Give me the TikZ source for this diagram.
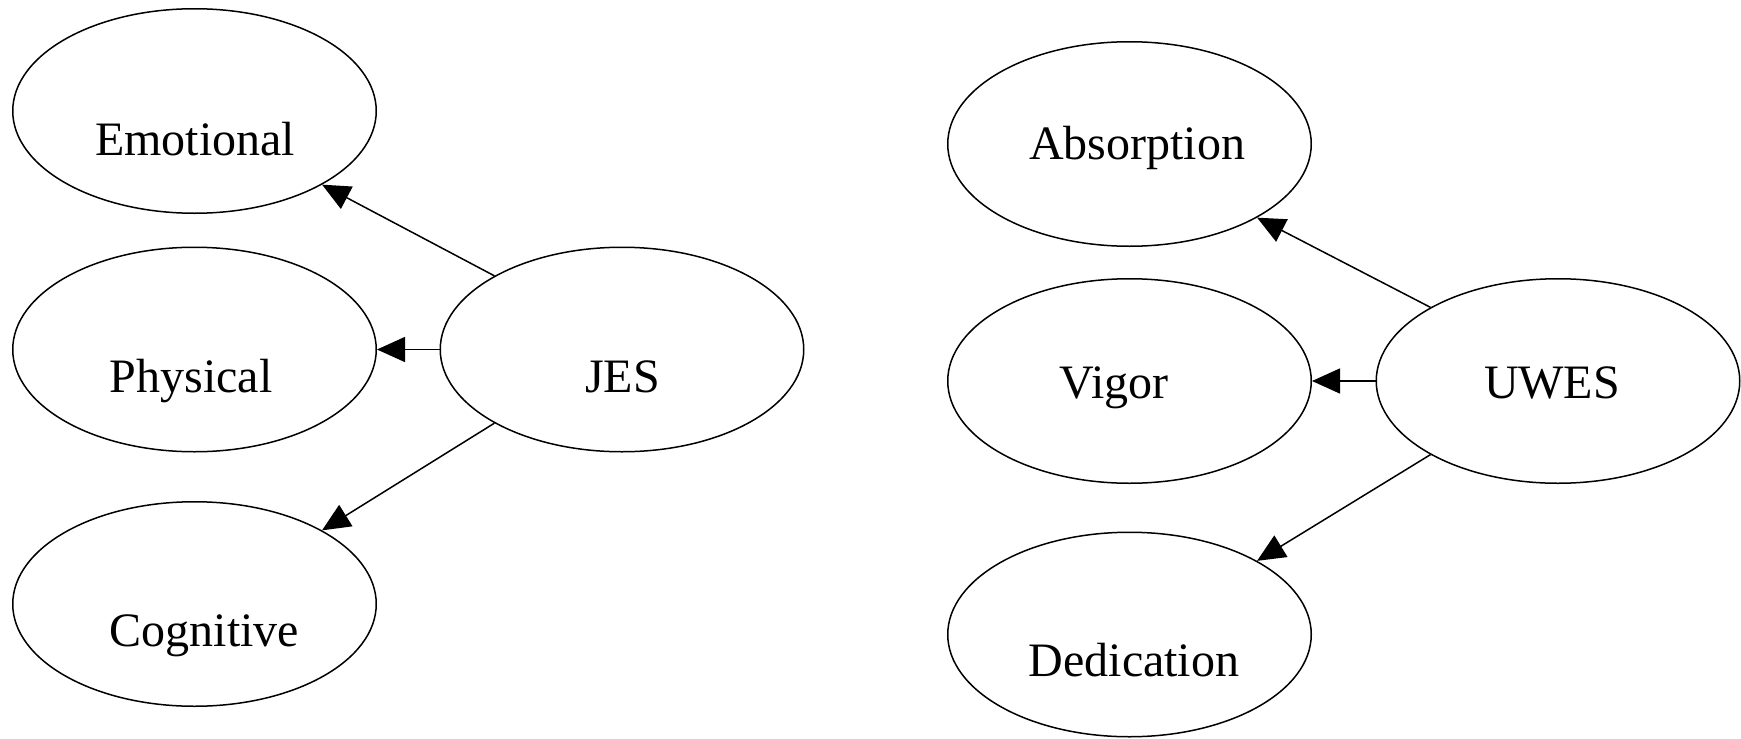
\documentclass[tikz,border=0pt]{standalone}
\usepackage{fontspec}
\setmainfont{Liberation Serif}
\usetikzlibrary{shapes.geometric,arrows.meta}
\tikzset{
  ell/.style={draw, ellipse, line width=1.5pt, minimum width=363.5pt, minimum height=204.5pt, inner sep=0pt},
  lbl/.style={anchor=base, inner sep=0pt, font=\fontsize{48}{58}\selectfont},
  arr/.style={line width=1.5pt, -{Triangle[length=28pt,width=25pt]}}
}
\begin{document}
\begin{tikzpicture}[x=1pt,y=-1pt]
\useasboundingbox (0,0) rectangle (1741,739);
% left group
\node[ell] (emo) at (194.5,111) {};
\node[ell] (phy) at (194.5,349.5) {};
\node[ell] (cog) at (194.5,604) {};
\node[ell] (jes) at (622,349.5) {};
% right group
\node[ell] (abs) at (1129.5,144) {};
\node[ell] (vig) at (1129.5,381) {};
\node[ell] (ded) at (1129.5,634.5) {};
\node[ell] (uwes) at (1558,381) {};
% labels
\node[lbl] (emoT) at (195,155) {Emotional};
\node[lbl] (phyT) at (191,392) {Physical};
\node[lbl] (cogT) at (204.5,646) {Cognitive};
\node[lbl] (jesT) at (622.5,392) {JES};
\node[lbl] (absT) at (1137,159) {Absorption};
\node[lbl] (vigT) at (1114,398) {Vigor};
\node[lbl] (dedT) at (1134,676) {Dedication};
\node[lbl] (uwesT) at (1552,398) {UWES};
% edges
\draw[arr] (jes.150) -- (emo.-30);
\draw[arr] (jes.west) -- (phy.east);
\draw[arr] (jes.210) -- (cog.30);
\draw[arr] (uwes.150) -- (abs.-30);
\draw[arr] (uwes.west) -- (vig.east);
\draw[arr] (uwes.210) -- (ded.30);
\end{tikzpicture}
\end{document}
